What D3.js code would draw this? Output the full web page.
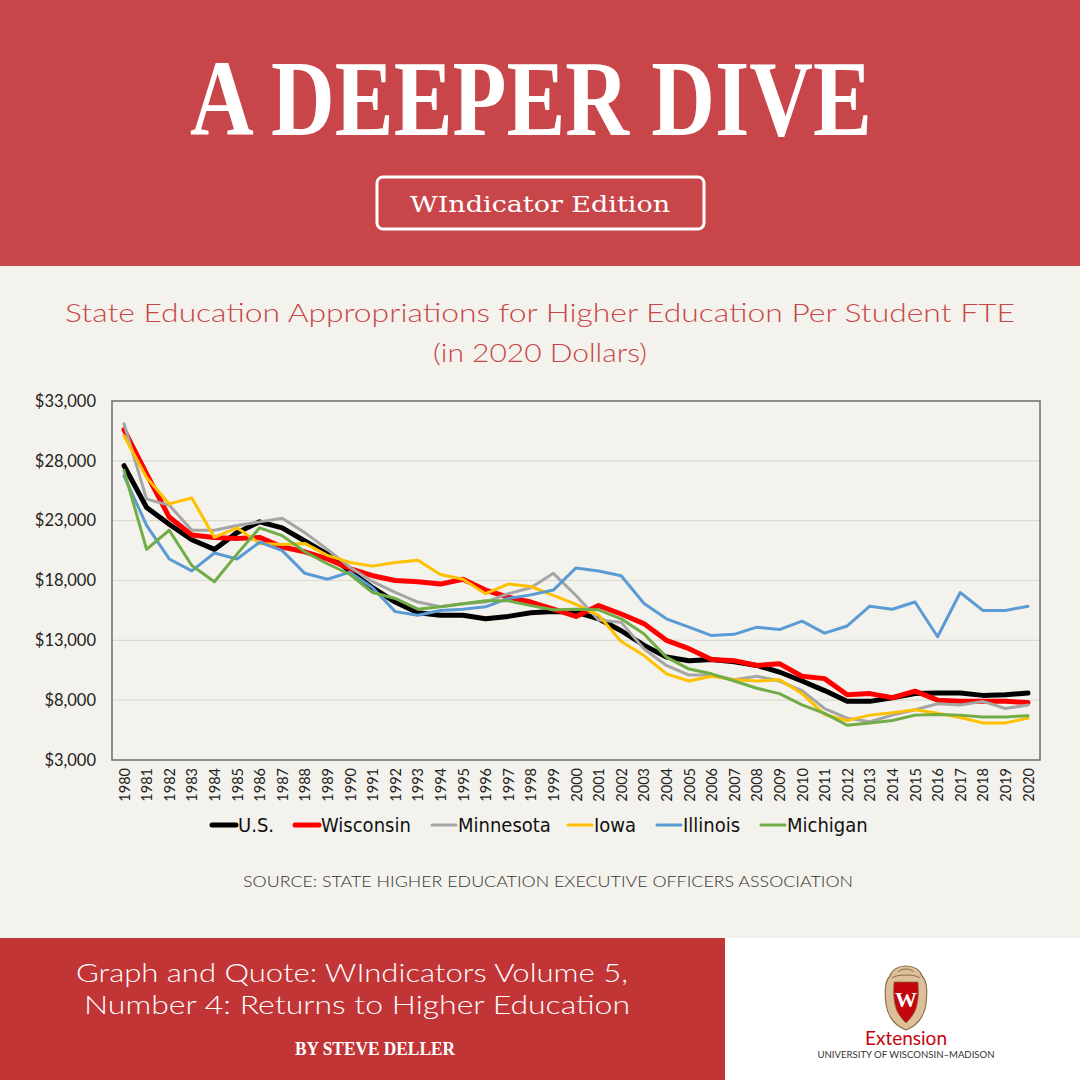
<!DOCTYPE html>
<html>
<head>
<meta charset="utf-8">
<script src="https://cdn.jsdelivr.net/npm/d3@7"></script>
<style>
  body { margin: 0; background: #f4f2ec; }
  svg { display: block; }
</style>
</head>
<body>
<svg id="chart"></svg>
<script>
const width = 1080;
const height = 1080;

// years on the x axis
const years = d3.range(1980, 2021);
const yTicks = [3000, 8000, 13000, 18000, 23000, 28000, 33000];

// appropriations per student FTE, 2020 dollars
const usValues = [27600, 24100, 22700, 21400, 20600, 22000, 22900, 22400, 21300, 20200,
  18800, 17400, 16200, 15300, 15100, 15100, 14800, 15000, 15300, 15400,
  15350, 14800, 13800, 12600, 11600, 11300, 11400, 11200, 10900, 10350,
  9600, 8800, 7900, 7900, 8200, 8550, 8600, 8600, 8400, 8450, 8600];
const wisconsinValues = [30600, 26900, 23300, 21800, 21600, 21500, 21600, 20800, 20400, 19800,
  19000, 18400, 18000, 17900, 17700, 18100, 17200, 16600, 16200, 15600,
  15000, 15900, 15200, 14400, 13000, 12300, 11400, 11300, 10900, 11050,
  10000, 9800, 8450, 8550, 8200, 8750, 8000, 7900, 7900, 7900, 7800];
const minnesotaValues = [31100, 24800, 24300, 22200, 22200, 22600, 22900, 23200, 22000, 20600,
  19100, 17900, 17000, 16200, 15800, 16050, 16200, 16900, 17400, 18600,
  16750, 14700, 14500, 12300, 10900, 10100, 10100, 9700, 10000, 9600,
  8800, 7300, 6500, 6200, 6750, 7200, 7700, 7600, 7900, 7300, 7600];
const iowaValues = [30100, 26600, 24400, 24900, 21600, 22400, 21100, 21000, 21100, 20100,
  19500, 19200, 19500, 19700, 18500, 18100, 16900, 17700, 17500, 16750,
  16000, 15100, 12900, 11750, 10200, 9600, 10000, 9700, 9600, 9700,
  8550, 6800, 6300, 6750, 6950, 7200, 6900, 6550, 6100, 6100, 6500];
const illinoisValues = [26750, 22600, 19800, 18800, 20300, 19800, 21200, 20500, 18600, 18100,
  18700, 17400, 15400, 15100, 15500, 15600, 15800, 16500, 16800, 17200,
  19050, 18800, 18400, 16100, 14800, 14100, 13400, 13500, 14100, 13900,
  14600, 13600, 14200, 15850, 15600, 16200, 13300, 17000, 15500, 15500, 15850];
const michiganValues = [27200, 20600, 22200, 19250, 17900, 20200, 22400, 21750, 20400, 19400,
  18500, 17000, 16500, 15600, 15800, 16050, 16300, 16300, 15900, 15550,
  15600, 15550, 14800, 13550, 11600, 10600, 10200, 9600, 9000, 8550,
  7600, 6900, 5900, 6100, 6300, 6750, 6800, 6750, 6600, 6600, 6700];

const seriesNames = ['U.S.', 'Wisconsin', 'Minnesota', 'Iowa', 'Illinois', 'Michigan'];
const seriesValues = [usValues, wisconsinValues, minnesotaValues, iowaValues, illinoisValues, michiganValues];
const seriesColors = ['#000000', '#ff0000', '#a5a5a5', '#ffc000', '#5b9bd5', '#70ad47'];
const seriesWidths = [5, 5, 3, 3, 3, 3];

const svg = d3.select('#chart')
  .attr('width', width)
  .attr('height', height);

// background
svg.append('rect').attr('width', width).attr('height', height).attr('fill', '#f4f2ec');

// ---- header band
svg.append('rect').attr('x', 0).attr('y', 0).attr('width', width).attr('height', 266)
  .attr('fill', '#c8464a');

svg.append('text')
  .attr('x', 531).attr('y', 135)
  .attr('text-anchor', 'middle')
  .attr('textLength', 682).attr('lengthAdjust', 'spacingAndGlyphs')
  .style('font-family', '"Liberation Serif", serif')
  .style('font-weight', 'bold')
  .style('font-size', '108px')
  .attr('fill', '#ffffff')
  .text('A DEEPER DIVE');

svg.append('rect')
  .attr('x', 377).attr('y', 177).attr('width', 327).attr('height', 52).attr('rx', 6)
  .attr('fill', 'none').attr('stroke', '#ffffff').attr('stroke-width', 3);

svg.append('text')
  .attr('x', 540).attr('y', 212)
  .attr('text-anchor', 'middle')
  .attr('textLength', 260).attr('lengthAdjust', 'spacingAndGlyphs')
  .style('font-family', '"DejaVu Serif", serif')
  .style('font-size', '23px')
  .attr('fill', '#ffffff')
  .text('WIndicator Edition');

// ---- chart title
svg.append('text')
  .attr('x', 540).attr('y', 322)
  .attr('text-anchor', 'middle')
  .attr('textLength', 950).attr('lengthAdjust', 'spacingAndGlyphs')
  .style('font-family', 'Lato, sans-serif').style('font-weight', 300)
  .style('font-size', '25px')
  .attr('fill', '#c8464a')
  .text('State Education Appropriations for Higher Education Per Student FTE');

svg.append('text')
  .attr('x', 540).attr('y', 362)
  .attr('text-anchor', 'middle')
  .attr('textLength', 214).attr('lengthAdjust', 'spacingAndGlyphs')
  .style('font-family', 'Lato, sans-serif').style('font-weight', 300)
  .style('font-size', '25px')
  .attr('fill', '#c8464a')
  .text('(in 2020 Dollars)');

// ---- plot
const plot = { left: 112, right: 1040, top: 401, bottom: 760 };

const x = d3.scaleLinear()
  .domain([1980, 2020])
  .range([plot.left + 12, plot.right - 12]);

const y = d3.scaleLinear()
  .domain([3000, 33000])
  .range([plot.bottom, plot.top]);

// gridlines
svg.append('g')
  .selectAll('line')
  .data(yTicks.slice(1, -1))
  .enter()
  .append('line')
    .attr('x1', plot.left).attr('x2', plot.right)
    .attr('y1', d => y(d)).attr('y2', d => y(d))
    .attr('stroke', '#dcdad5').attr('stroke-width', 1.2);

// y axis labels
const yAxis = svg.append('g')
  .attr('transform', `translate(${plot.left},0)`)
  .call(d3.axisLeft(y).tickValues(yTicks).tickFormat(d3.format('$,')).tickSize(0).tickPadding(16));
yAxis.select('.domain').remove();
yAxis.selectAll('text')
  .style('font-family', 'Lato, sans-serif')
  .style('font-size', '16.5px')
  .attr('fill', '#222');

// x axis labels (vertical)
const xAxis = svg.append('g')
  .attr('transform', `translate(0,${plot.bottom})`)
  .call(d3.axisBottom(x).tickValues(years).tickFormat(d3.format('d')).tickSize(0));
xAxis.select('.domain').remove();
xAxis.selectAll('text')
  .attr('transform', 'rotate(-90)')
  .attr('text-anchor', 'end')
  .attr('x', -8).attr('y', 0).attr('dy', '0.35em')
  .style('font-family', 'Lato, sans-serif')
  .style('font-size', '14.5px')
  .attr('fill', '#222');

// lines
const line = d3.line()
  .x((d, i) => x(years[i]))
  .y(d => y(d));

svg.append('g')
  .selectAll('path')
  .data(seriesValues)
  .enter()
  .append('path')
    .attr('d', line)
    .attr('fill', 'none')
    .attr('stroke', (d, i) => seriesColors[i])
    .attr('stroke-width', (d, i) => seriesWidths[i])
    .attr('stroke-linejoin', 'round')
    .attr('stroke-linecap', 'round');

// frame
svg.append('rect')
  .attr('x', plot.left).attr('y', plot.top)
  .attr('width', plot.right - plot.left).attr('height', plot.bottom - plot.top)
  .attr('fill', 'none').attr('stroke', '#6e6e6e').attr('stroke-width', 1.5);

// ---- legend
const legendX = [212, 295, 432, 568, 657, 761];
const legend = svg.append('g')
  .selectAll('g')
  .data(seriesNames)
  .enter()
  .append('g')
    .attr('transform', (d, i) => `translate(${legendX[i]},825)`);

legend.append('line')
  .attr('x1', 0).attr('x2', 24).attr('y1', 0).attr('y2', 0)
  .attr('stroke', (d, i) => seriesColors[i])
  .attr('stroke-width', (d, i) => seriesWidths[i])
  .attr('stroke-linecap', 'round');

legend.append('text')
  .attr('x', 26).attr('y', 0).attr('dy', '0.35em')
  .style('font-family', '"Liberation Sans Narrow", "DejaVu Sans Condensed", sans-serif')
  .style('font-size', '20px')
  .attr('fill', '#111')
  .text(d => d);

// source
svg.append('text')
  .attr('x', 548).attr('y', 887)
  .attr('text-anchor', 'middle')
  .attr('textLength', 610).attr('lengthAdjust', 'spacingAndGlyphs')
  .style('font-family', 'Lato, sans-serif').style('font-weight', 300)
  .style('font-size', '16px')
  .attr('fill', '#333')
  .text('SOURCE: STATE HIGHER EDUCATION EXECUTIVE OFFICERS ASSOCIATION');

// ---- footer
svg.append('rect').attr('x', 0).attr('y', 938).attr('width', 725).attr('height', 142)
  .attr('fill', '#c13537');
svg.append('rect').attr('x', 725).attr('y', 938).attr('width', 355).attr('height', 142)
  .attr('fill', '#ffffff');

svg.append('text')
  .attr('x', 352).attr('y', 982)
  .attr('text-anchor', 'middle')
  .attr('textLength', 552).attr('lengthAdjust', 'spacingAndGlyphs')
  .style('font-family', 'Lato, sans-serif').style('font-weight', 300)
  .style('font-size', '26px')
  .attr('fill', '#ffffff')
  .text('Graph and Quote: WIndicators Volume 5,');

svg.append('text')
  .attr('x', 357).attr('y', 1014)
  .attr('text-anchor', 'middle')
  .attr('textLength', 546).attr('lengthAdjust', 'spacingAndGlyphs')
  .style('font-family', 'Lato, sans-serif').style('font-weight', 300)
  .style('font-size', '26px')
  .attr('fill', '#ffffff')
  .text('Number 4: Returns to Higher Education');

svg.append('text')
  .attr('x', 375).attr('y', 1055)
  .attr('text-anchor', 'middle')
  .attr('textLength', 160).attr('lengthAdjust', 'spacingAndGlyphs')
  .style('font-family', '"Liberation Serif", serif').style('font-weight', 'bold')
  .style('font-size', '18px')
  .attr('fill', '#ffffff')
  .text('BY STEVE DELLER');

// crest
const crest = svg.append('g').attr('transform', 'translate(906,998)');
crest.append('path')
  .attr('d', 'M0,-32 C8,-32 14,-28 16,-22 C22,-16 21,-4 20,6 C18,20 10,28 0,32 C-10,28 -18,20 -20,6 C-21,-4 -22,-16 -16,-22 C-14,-28 -8,-32 0,-32 Z')
  .attr('fill', '#dcc09a').attr('stroke', '#8c6b48').attr('stroke-width', 1.2);
crest.append('path')
  .attr('d', 'M-8,-26 C-4,-30 4,-30 8,-26 M-14,-20 C-10,-24 10,-24 14,-20')
  .attr('fill', 'none').attr('stroke', '#8c6b48').attr('stroke-width', 1);
crest.append('path')
  .attr('d', 'M-12,-16 L12,-16 C13,-4 12,8 8,15 C5,20 2,23 0,25 C-2,23 -5,20 -8,15 C-12,8 -13,-4 -12,-16 Z')
  .attr('fill', '#c5050c').attr('stroke', '#8c6b48').attr('stroke-width', 0.8);
crest.append('text')
  .attr('x', 0).attr('y', 9)
  .attr('text-anchor', 'middle')
  .style('font-family', '"Liberation Serif", serif').style('font-weight', 'bold')
  .style('font-size', '22px')
  .attr('fill', '#ffffff')
  .text('W');

svg.append('text')
  .attr('x', 906).attr('y', 1045)
  .attr('text-anchor', 'middle')
  .style('font-family', 'Lato, sans-serif')
  .style('font-size', '19px')
  .attr('fill', '#c5050c')
  .text('Extension');

svg.append('text')
  .attr('x', 906).attr('y', 1058)
  .attr('text-anchor', 'middle')
  .attr('textLength', 177).attr('lengthAdjust', 'spacingAndGlyphs')
  .style('font-family', 'Lato, sans-serif')
  .style('font-size', '9.5px')
  .attr('fill', '#333')
  .text('UNIVERSITY OF WISCONSIN\u2013MADISON');
</script>
</body>
</html>
